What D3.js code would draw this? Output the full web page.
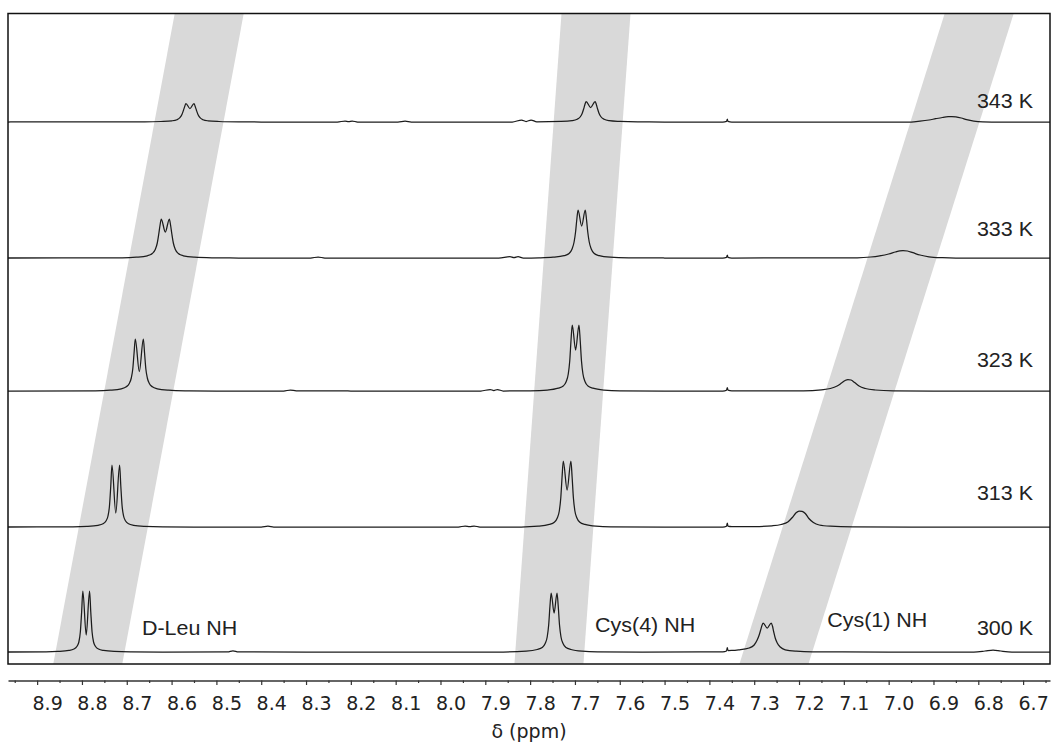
<!DOCTYPE html>
<html>
<head>
<meta charset="utf-8">
<script src="https://cdn.jsdelivr.net/npm/d3@7"></script>
<style>
  html, body { margin: 0; padding: 0; background: #fff; }
  svg { display: block; }
</style>
</head>
<body>
<svg id="chart"></svg>
<script>
// stacked 1H NMR amide region, variable temperature
const temperatures = ['300 K', '313 K', '323 K', '333 K', '343 K'];
const stackOffsets = [0, 125, 261, 394, 530];      // vertical offset of each spectrum (intensity units)
const tempLabelHeight = [17, 27, 24, 22, 14.5];

// [ppm, intensity]
const trace300 = [
  [8.965,0],[8.88,0.2],[8.854,0.6],[8.829,1.6],[8.818,3],[8.8114,5.5],[8.8069,10],[8.8036,20],[8.8007,40],[8.798,61],
  [8.7905,17],[8.783,61],[8.7803,40],[8.7774,20],[8.7741,10],[8.7696,5.5],[8.763,3],[8.7518,1.6],[8.7272,0.6],[8.69,0.2],
  [8.62,0],[8.475,0.1],[8.463,1.2],[8.451,0.1],[8.3,0],[7.86,0],[7.8088,0.8],[7.7842,2.5],[7.7731,4.5],[7.7664,8.5],
  [7.7619,15],[7.7586,27],[7.7557,46],[7.753,59],[7.7465,39],[7.740,59],[7.7373,46],[7.7344,27],[7.7311,15],[7.7266,8.5],
  [7.7199,4.5],[7.7088,2.5],[7.6842,0.8],[7.65,0.2],[7.55,0],[7.37,0.2],[7.3618,1],[7.360,4.5],[7.3585,1.5],[7.35,1.6],
  [7.335,2.2],[7.3112,4],[7.3001,7],[7.2934,12],[7.2889,17],[7.2856,22],[7.2827,26.5],[7.280,29],[7.271,24],[7.262,29],
  [7.2593,26],[7.2564,20],[7.2531,14],[7.2486,9],[7.2419,5],[7.2308,2.2],[7.2062,0.8],[7.17,0.2],[7.0,0],[6.81,0],
  [6.785,1],[6.767,2],[6.75,1],[6.725,0],[6.64,0]
];
const trace313 = [
  [8.965,0],[8.82,0.2],[8.7888,0.6],[8.7642,1.7],[8.7531,3.2],[8.7464,6],[8.7419,11],[8.7386,21],[8.7357,41],[8.733,62],
  [8.7245,14],[8.716,62],[8.7133,41],[8.7104,21],[8.7071,11],[8.7026,6],[8.6959,3.2],[8.6848,1.7],[8.6602,0.6],[8.62,0.1],
  [8.55,0],[8.40,0],[8.385,0.8],[8.372,0],[7.96,0],[7.945,1],[7.935,0.3],[7.925,1],[7.912,0],[7.82,0],
  [7.7818,0.8],[7.7572,2.6],[7.7461,4.8],[7.7394,9],[7.7349,16],[7.7316,29],[7.7287,50],[7.726,66],[7.7175,37],[7.709,66],
  [7.7063,50],[7.7034,29],[7.7001,16],[7.6956,9],[7.6889,4.8],[7.6778,2.6],[7.6532,0.8],[7.62,0.2],[7.5,0],[7.37,0],
  [7.3618,0.8],[7.360,4],[7.3585,0.8],[7.35,0.3],[7.30,0.4],[7.26,1.2],[7.24,2.5],[7.225,5],[7.215,9.5],[7.207,14],
  [7.200,16],[7.193,15.6],[7.186,13.5],[7.178,8.5],[7.168,4.5],[7.155,2],[7.13,0.8],[7.08,0.2],[6.95,0],[6.64,0]
];
const trace323 = [
  [8.965,0],[8.77,0.2],[8.7368,0.8],[8.7122,2.2],[8.7011,4.2],[8.6944,7.5],[8.6899,13],[8.6866,22],[8.6837,38],[8.681,52],
  [8.672,19.5],[8.663,52],[8.6603,38],[8.6574,22],[8.6541,13],[8.6496,7.5],[8.6429,4.2],[8.6318,2.2],[8.6072,0.8],[8.57,0.2],
  [8.5,0],[8.35,0],[8.335,1],[8.322,0.2],[8.2,0],[7.91,0],[7.889,1.5],[7.881,0.4],[7.873,1.5],[7.86,0],
  [7.80,0.2],[7.7618,0.9],[7.7372,2.8],[7.7261,5],[7.7194,9.5],[7.7149,17],[7.7116,30],[7.7087,51],[7.706,66],[7.6985,41],
  [7.691,66],[7.6883,51],[7.6854,30],[7.6821,17],[7.6776,9.5],[7.6709,5],[7.6598,2.8],[7.6352,0.9],[7.60,0.2],[7.5,0],
  [7.37,0],[7.3618,0.8],[7.360,3.5],[7.3585,0.8],[7.35,0.2],[7.19,0.2],[7.15,1.2],[7.13,2.5],[7.115,5],[7.105,8],
  [7.097,10.5],[7.091,11.5],[7.084,11],[7.076,8.5],[7.066,5],[7.052,2.5],[7.03,1],[6.99,0.2],[6.9,0],[6.64,0]
];
const trace333 = [
  [8.965,0],[8.71,0.2],[8.6788,0.8],[8.6542,2.2],[8.6431,4.5],[8.6364,8.5],[8.6319,15],[8.6286,24],[8.6257,33],[8.623,39],
  [8.614,26],[8.605,39],[8.6023,33],[8.5994,24],[8.5961,15],[8.5916,8.5],[8.5849,4.5],[8.5738,2.2],[8.5492,0.8],[8.51,0.2],
  [8.45,0],[8.29,0],[8.273,1],[8.258,0],[7.87,0],[7.845,1.3],[7.836,0.3],[7.827,1.3],[7.815,0],[7.78,0.2],
  [7.7488,0.8],[7.7242,2.3],[7.7131,4.5],[7.7064,9],[7.7019,16],[7.6986,26],[7.6957,39],[7.693,48],[7.685,32],[7.677,48],
  [7.6743,39],[7.6714,26],[7.6681,16],[7.6636,9],[7.6569,4.5],[7.6458,2.3],[7.6212,0.8],[7.58,0.2],[7.5,0],[7.37,0],
  [7.3618,0.6],[7.360,3],[7.3585,0.6],[7.35,0],[7.07,0.2],[7.04,1],[7.02,2.2],[7.0,4],[6.985,6],[6.975,7.2],
  [6.968,7.5],[6.958,7],[6.946,5.3],[6.93,3],[6.91,1.2],[6.88,0.3],[6.85,0],[6.64,0]
];
const trace343 = [
  [8.965,0],[8.66,0.1],[8.6238,0.5],[8.5992,1.2],[8.5881,2.3],[8.5814,4.3],[8.5769,7.5],[8.5736,11.5],[8.5707,15.5],[8.568,18.5],
  [8.559,13.5],[8.550,18.5],[8.5473,15.5],[8.5444,11.5],[8.5411,7.5],[8.5366,4.3],[8.5299,2.3],[8.5188,1.2],[8.4942,0.5],[8.45,0.1],
  [8.40,0],[8.23,0],[8.213,1],[8.205,0.3],[8.197,1],[8.185,0],[8.095,0],[8.079,0.8],[8.065,0],[7.84,0],
  [7.819,2],[7.809,0.5],[7.798,2],[7.785,0.2],[7.7308,0.6],[7.7062,1.4],[7.6951,2.7],[7.6884,5],[7.6839,8.5],[7.6806,13],
  [7.6777,17.5],[7.675,20.5],[7.665,14.5],[7.655,20.5],[7.6523,17.5],[7.6494,13],[7.6461,8.5],[7.6416,5],[7.6349,2.7],[7.6238,1.4],
  [7.5992,0.6],[7.56,0.1],[7.5,0],[7.37,0],[7.3618,0.6],[7.360,2.8],[7.3585,0.6],[7.35,0],[6.95,0],[6.93,0.8],
  [6.91,2],[6.895,3.3],[6.88,4.5],[6.867,5.3],[6.859,5.5],[6.85,5.2],[6.838,4],[6.826,2.3],[6.81,0.8],[6.79,0.1],
  [6.77,0],[6.64,0]
];
const traces = [trace300, trace313, trace323, trace333, trace343];

// shaded guides following each NH signal (ppm at top / bottom of the frame)
const bandTopPpm = [8.516, 7.653, 6.798];
const bandBottomPpm = [8.787, 7.758, 7.256];
const bandHalfWidth = 0.077;

const peakNames = ['D-Leu NH', 'Cys(4) NH', 'Cys(1) NH'];
const peakLabelPpm = [8.666, 7.655, 7.137];
const peakLabelHeight = [17, 20, 25];
const tempLabelPpm = 6.678;

const majorTicks = [8.9, 8.8, 8.7, 8.6, 8.5, 8.4, 8.3, 8.2, 8.1, 8.0, 7.9, 7.8, 7.7, 7.6, 7.5, 7.4, 7.3, 7.2, 7.1, 7.0, 6.9, 6.8, 6.7];
const minorTicks = majorTicks.map(v => +(v + 0.05).toFixed(2)).concat([6.65]);

const width = 1053, height = 747;
const frame = { left: 8, right: 1050, top: 13.5, bottom: 664 };

const svg = d3.select('#chart').attr('width', width).attr('height', height);

const x = d3.scaleLinear().domain([8.965, 6.64]).range([frame.left, frame.right]);
const y = d3.scaleLinear().domain([0, 530]).range([652, 122]);

svg.append('clipPath').attr('id', 'frameClip')
  .append('rect')
  .attr('x', frame.left).attr('y', frame.top)
  .attr('width', frame.right - frame.left).attr('height', frame.bottom - frame.top);

const plot = svg.append('g').attr('clip-path', 'url(#frameClip)');

// gray bands
plot.selectAll('polygon.band')
  .data(bandTopPpm.map((t, i) => ({ top: t, bottom: bandBottomPpm[i] })))
  .enter()
  .append('polygon')
  .attr('class', 'band')
  .attr('points', d => [
      [x(d.top + bandHalfWidth), frame.top],
      [x(d.top - bandHalfWidth), frame.top],
      [x(d.bottom - bandHalfWidth), frame.bottom],
      [x(d.bottom + bandHalfWidth), frame.bottom]
    ].map(p => p.join(',')).join(' '))
  .attr('fill', '#d9d9d9');

// spectra
traces.forEach((pts, i) => {
  const line = d3.line()
    .x(d => x(d[0]))
    .y(d => y(stackOffsets[i] + d[1]))
    .curve(d3.curveMonotoneX);
  plot.append('path')
    .attr('d', line(pts))
    .attr('fill', 'none')
    .attr('stroke', '#1c1c1c')
    .attr('stroke-width', 1.25)
    .attr('stroke-linejoin', 'round');
});

// frame
svg.append('rect')
  .attr('x', frame.left).attr('y', frame.top)
  .attr('width', frame.right - frame.left).attr('height', frame.bottom - frame.top)
  .attr('fill', 'none')
  .attr('stroke', '#111')
  .attr('stroke-width', 1.5);

// temperature labels
const labelFont = "'Liberation Sans', Arial, sans-serif";
svg.selectAll('text.temp')
  .data(temperatures)
  .enter()
  .append('text')
  .attr('class', 'temp')
  .attr('transform', (d, i) => `translate(${x(tempLabelPpm)},${y(stackOffsets[i] + tempLabelHeight[i])}) scale(1.1,1)`)
  .attr('text-anchor', 'end')
  .style('font-family', labelFont)
  .style('font-size', '19.5px')
  .attr('fill', '#222')
  .text(d => d);

// peak labels
svg.selectAll('text.peak')
  .data(peakNames)
  .enter()
  .append('text')
  .attr('class', 'peak')
  .attr('transform', (d, i) => `translate(${x(peakLabelPpm[i])},${y(peakLabelHeight[i])}) scale(1.1,1)`)
  .style('font-family', labelFont)
  .style('font-size', '19.5px')
  .attr('fill', '#222')
  .text(d => d);

// x axis
const axisY = 680.5;
const axisG = svg.append('g')
  .attr('transform', `translate(0,${axisY})`)
  .call(d3.axisBottom(x)
    .tickValues(majorTicks)
    .tickSize(4.5)
    .tickSizeOuter(0)
    .tickPadding(12)
    .tickFormat(d3.format('.1f')));

axisG.select('.domain').attr('stroke', '#333').attr('stroke-width', 1.5);
axisG.selectAll('.tick line').attr('stroke', '#333').attr('stroke-width', 1.2);
axisG.selectAll('.tick text')
  .attr('dx', 10)
  .attr('fill', '#222')
  .style('font-family', "'DejaVu Sans', Verdana, sans-serif")
  .style('font-size', '19px');

const minorG = svg.append('g')
  .attr('transform', `translate(0,${axisY})`)
  .call(d3.axisBottom(x)
    .tickValues(minorTicks)
    .tickSize(2.5)
    .tickSizeOuter(0)
    .tickFormat(''));
minorG.select('.domain').remove();
minorG.selectAll('.tick line').attr('stroke', '#333').attr('stroke-width', 1.2);

svg.append('text')
  .attr('x', (frame.left + frame.right) / 2)
  .attr('y', 738)
  .attr('text-anchor', 'middle')
  .style('font-family', "'DejaVu Sans', Verdana, sans-serif")
  .style('font-size', '19px')
  .attr('fill', '#222')
  .text('δ (ppm)');
</script>
</body>
</html>
